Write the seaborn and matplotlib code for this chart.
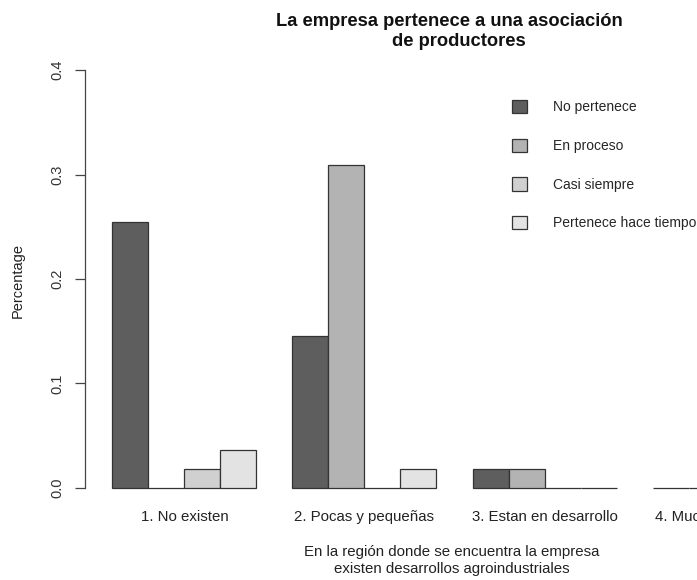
import pandas as pd
import numpy as np
import matplotlib.pyplot as plt
import seaborn as sns

# data (share of firms per answer)
regiones = ['1. No existen', '2. Pocas y pequeñas', '3. Estan en desarrollo', '4. Muchas y grandes']
estados = ['No pertenece', 'En proceso', 'Casi siempre', 'Pertenece hace tiempo']
no_pertenece = [0.2545, 0.1455, 0.0182, 0.0]
en_proceso = [0.0, 0.3091, 0.0182, 0.0]
casi_siempre = [0.0182, 0.0, 0.0, 0.0]
hace_tiempo = [0.0364, 0.0182, 0.0, 0.0]
colores = ['#5e5e5e', '#b3b3b3', '#d0d0d0', '#e3e3e3']

df = pd.DataFrame({
    'region': regiones * 4,
    'estado': np.repeat(estados, 4),
    'pct': no_pertenece + en_proceso + casi_siempre + hace_tiempo,
})

sns.set_style('white')
plt.rcParams['font.family'] = ['Liberation Sans', 'DejaVu Sans']

W, H = 697, 580
fig = plt.figure(figsize=(W / 100, H / 100), dpi=100)
# plot region runs past the right edge of the picture, like the reference
ax = fig.add_axes([85 / W, (H - 504.7) / H, 739 / W, 451.4 / H])

sns.barplot(data=df, x='region', y='pct', hue='estado', order=regiones,
            hue_order=estados, palette=colores, edgecolor='#333333',
            linewidth=0.9, ax=ax)

ax.set_xlim(-0.552, 3.552)
ax.set_ylim(-0.016, 0.416)
for s in ['top', 'right', 'bottom']:
    ax.spines[s].set_visible(False)
ax.spines['left'].set_bounds(0, 0.4)
ax.spines['left'].set_color('#444444')
ax.spines['left'].set_linewidth(0.9)

ax.set_yticks([0, 0.1, 0.2, 0.3, 0.4])
ax.set_yticklabels(['0.0', '0.1', '0.2', '0.3', '0.4'], rotation=90, va='center',
                   fontsize=10.5, color='#333333')
ax.tick_params(axis='y', length=7, width=0.9, color='#444444', pad=8, left=True)
ax.tick_params(axis='x', length=0, pad=4, labelsize=10.8, labelcolor='#222222')
ax.set_xlabel('')
ax.set_ylabel('')

fig.text(18 / W, 1 - 280 / H, 'Percentage', rotation=90, ha='center', va='center',
         fontsize=10.5, color='#222222')
fig.text(449 / W, 1 - 22 / H, 'La empresa pertenece a una asociación', ha='center',
         va='center', fontsize=13.2, fontweight='bold', color='#111111')
fig.text(459 / W, 1 - 42 / H, 'de productores', ha='center', va='center',
         fontsize=13.2, fontweight='bold', color='#111111')
fig.text(452 / W, 1 - 552 / H, 'En la región donde se encuentra la empresa', ha='center',
         va='center', fontsize=10.8, color='#222222')
fig.text(452 / W, 1 - 569 / H, 'existen desarrollos agroindustriales', ha='center',
         va='center', fontsize=10.8, color='#222222')

handles, labels = ax.get_legend_handles_labels()
ax.legend(handles, labels, loc='upper left', bbox_to_anchor=(512 / W, 1 - 100 / H),
          bbox_transform=fig.transFigure, frameon=False, fontsize=10,
          handlelength=1.1, handleheight=1.1, handletextpad=1.85,
          labelspacing=1.75, borderpad=0, borderaxespad=0)

fig.savefig('out.png', dpi=100)
